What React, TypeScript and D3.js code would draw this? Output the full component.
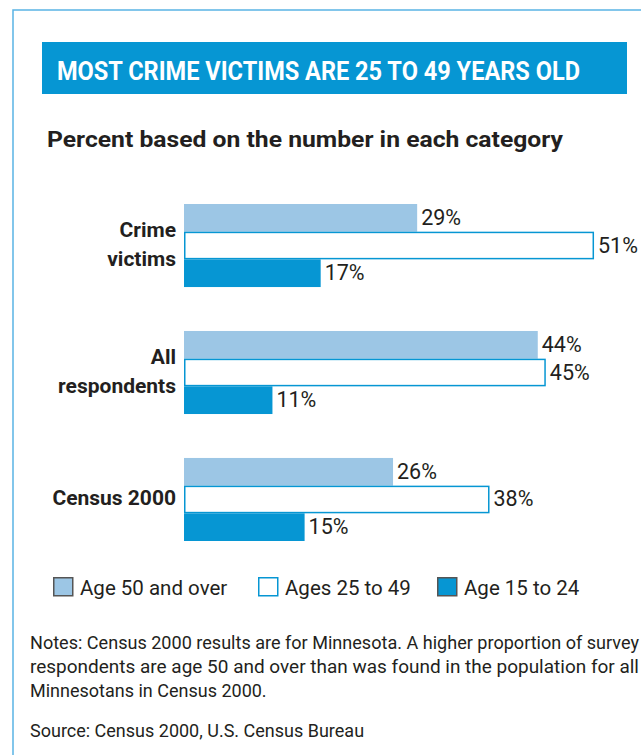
import React from "react";
import * as d3 from "d3";

const title = "MOST CRIME VICTIMS ARE 25 TO 49 YEARS OLD";
const subtitle = "Percent based on the number in each category";
const categories = ["Crime victims", "All respondents", "Census 2000"];
const categoryLines = [["Crime", "victims"], ["All", "respondents"], ["Census 2000"]];
const seriesNames = ["Age 50 and over", "Ages 25 to 49", "Age 15 to 24"];
const age50Plus = [29, 44, 26];
const age25to49 = [51, 45, 38];
const age15to24 = [17, 11, 15];
const notes = [
  "Notes: Census 2000 results are for Minnesota. A higher proportion of survey",
  "respondents are age 50 and over than was found in the population for all",
  "Minnesotans in Census 2000.",
];
const source = "Source: Census 2000, U.S. Census Bureau";

const FONT = "Roboto, 'Open Sans', sans-serif";
const TITLE_FONT = "'Liberation Sans Narrow', Roboto, sans-serif";
const TEXT = "#231f20";
const LIGHT = "#9cc6e5";
const DARK = "#0696d3";
const FRAME = "#5ab4e5";

export default function App() {
  const W = 641;
  const H = 755;
  const series = [age50Plus, age25to49, age15to24];
  const fills = [LIGHT, "#ffffff", DARK];
  const strokes = ["none", DARK, "none"];
  const legendStrokes = ["#555555", DARK, "#555555"];

  const x = d3.scaleLinear().domain([0, 100]).range([184, 988]);
  const y0 = d3.scaleBand<string>().domain(categories).range([204, 541]).paddingInner(0.346).paddingOuter(0);
  const y1 = d3.scaleBand<number>().domain([0, 1, 2]).range([0, y0.bandwidth()]);

  const legendX = [53, 258, 437];

  return (
    <svg width={W} height={H} style={{ position: "absolute", left: 0, top: 0 }} fontFamily={FONT}>
      <rect x={0} y={0} width={W} height={H} fill="#ffffff" />
      <rect x={13} y={10} width={700} height={800} fill="none" stroke={FRAME} strokeWidth={1.5} />
      <rect x={42} y={42} width={585} height={52} fill={DARK} />
      <text x={57} y={80} fill="#ffffff" fontSize={25} fontWeight="bold" fontFamily={TITLE_FONT} textLength={523} lengthAdjust="spacingAndGlyphs">
        {title}
      </text>
      <text x={47} y={147} fill={TEXT} fontSize={22} fontWeight="bold" textLength={516} lengthAdjust="spacingAndGlyphs">
        {subtitle}
      </text>

      {categories.map((c, ci) => {
        const top = y0(c)!;
        const center = top + y0.bandwidth() / 2;
        const lines = categoryLines[ci];
        return (
          <g key={c}>
            {lines.map((ln, li) => (
              <text
                key={li}
                x={176}
                y={center + 6 + (li - (lines.length - 1) / 2) * 28.5}
                textAnchor="end"
                fill={TEXT}
                fontSize={21}
                fontWeight="bold"
              >
                {ln}
              </text>
            ))}
            {series.map((s, si) => {
              const by = top + y1(si)!;
              const bh = y1.bandwidth();
              const v = s[ci];
              const isOutline = strokes[si] !== "none";
              return (
                <g key={si}>
                  <rect
                    x={isOutline ? x(0) + 0.75 : x(0)}
                    y={isOutline ? by + 0.75 : by}
                    width={isOutline ? x(v) - x(0) - 1.5 : x(v) - x(0)}
                    height={isOutline ? bh - 1.5 : bh}
                    fill={fills[si]}
                    stroke={strokes[si]}
                    strokeWidth={1.5}
                  />
                  <text x={x(v) + 4} y={by + bh / 2 + 7} fill={TEXT} fontSize={21.5}>
                    {v}%
                  </text>
                </g>
              );
            })}
          </g>
        );
      })}

      {seriesNames.map((n, i) => (
        <g key={n}>
          <rect x={legendX[i] + 0.75} y={577.75} width={19} height={18} fill={fills[i]} stroke={legendStrokes[i]} strokeWidth={1.5} />
          <text x={legendX[i] + 27} y={595} fill={TEXT} fontSize={20.5}>
            {n}
          </text>
        </g>
      ))}

      {notes.map((n, i) => (
        <text
          key={i}
          x={30}
          y={649 + i * 24}
          fill={TEXT}
          fontSize={18}
          textLength={i < 2 ? 609 : undefined}
          lengthAdjust="spacingAndGlyphs"
        >
          {n}
        </text>
      ))}
      <text x={30} y={737} fill={TEXT} fontSize={18}>
        {source}
      </text>
    </svg>
  );
}
